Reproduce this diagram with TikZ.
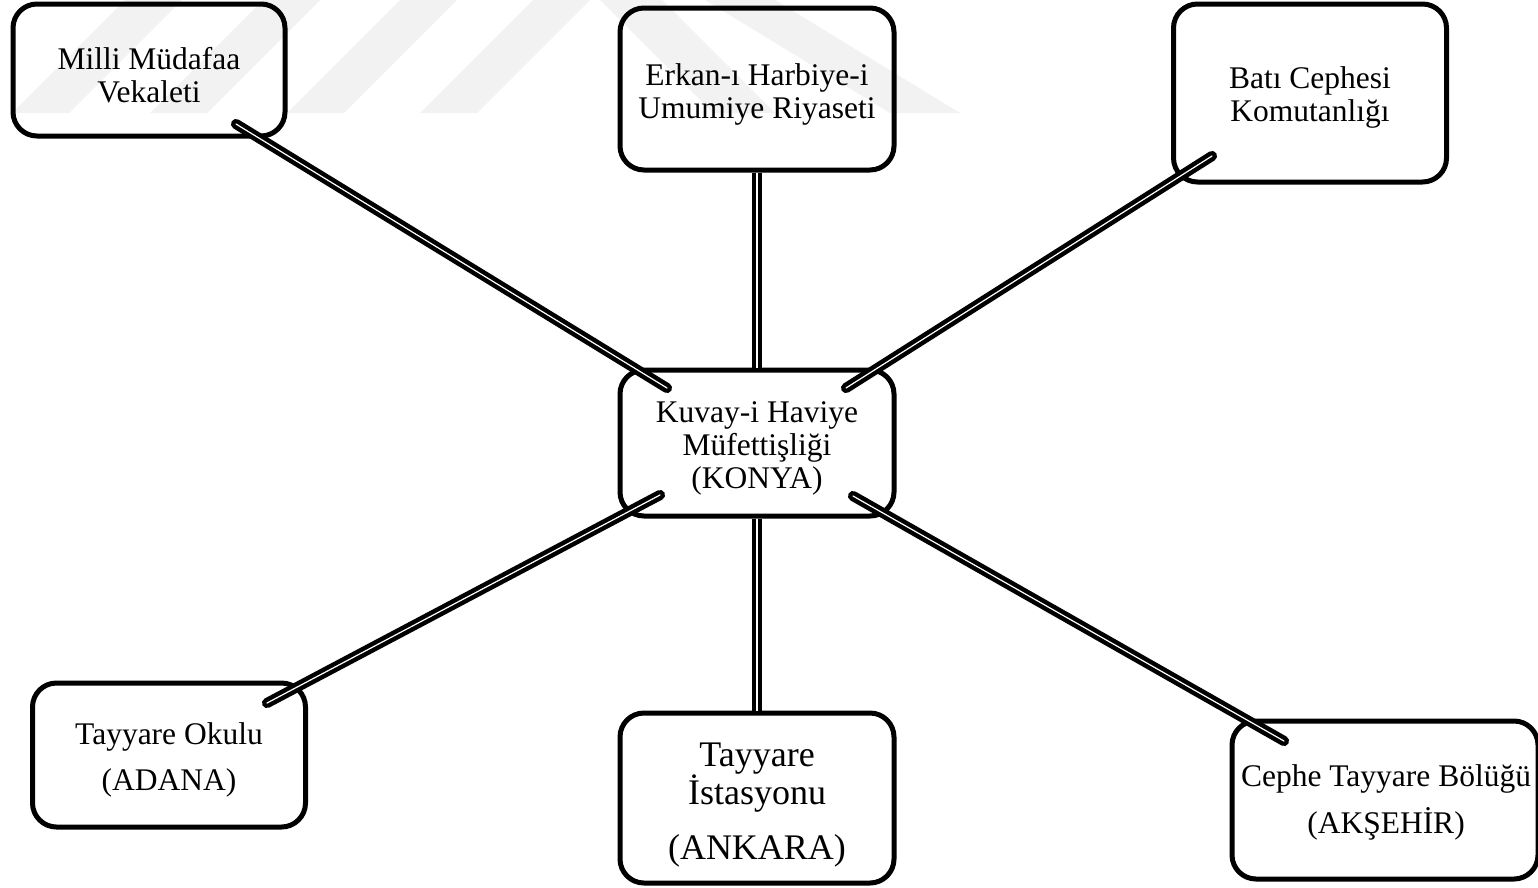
\documentclass[tikz,border=0pt]{standalone}
\usepackage{fontspec}
\setmainfont{Liberation Serif}
\begin{document}
\begin{tikzpicture}[x=1pt,y=-1pt,
  box/.style={draw=black, line width=5pt, rounded corners=24pt, inner sep=0pt},
  lbl/.style={inner sep=0pt, align=center, font=\fontsize{31.5}{33}\selectfont},
  link/.style={line width=4.5pt, double=white, double distance=1.2pt, line cap=round},
  vlink/.style={link, line cap=butt},
  wm/.style={fill=black!5, draw=none}]
\useasboundingbox (0,0) rectangle (1538,887);
% faint watermark stripes
\foreach \b in {12,150,287,420}{
  \fill[wm] (\b,113) -- (\b+57,113) -- (\b+170,0) -- (\b+113,0) -- cycle;
}
\fill[wm] (600,0) -- (662,0) -- (775,113) -- (713,113) -- cycle;
\fill[wm] (705,0) -- (775,0) -- (960,113) -- (890,113) -- cycle;
% boxes
\node[box, minimum width=272pt, minimum height=132pt] (milli) at (149,70) {};
\node[box, minimum width=274pt, minimum height=162pt] (erkan) at (757,89) {};
\node[box, minimum width=273pt, minimum height=178pt] (bati) at (1310,93) {};
\node[box, minimum width=274pt, minimum height=146pt] (kuvay) at (757,443) {};
\node[box, minimum width=273pt, minimum height=144pt] (adana) at (169,755) {};
\node[box, minimum width=274pt, minimum height=170pt] (ankara) at (757,798) {};
\node[box, minimum width=306pt, minimum height=158pt] (cephe) at (1385,800) {};
% texts
\node[lbl] (millit) at (149,75) {Milli Müdafaa\\Vekaleti};
\node[lbl] (erkant) at (757,94) {Erkan-ı Harbiye-i\\Umumiye Riyaseti};
\node[lbl] (batit) at (1310,97) {Batı Cephesi\\Komutanlığı};
\node[lbl] (kuvayt) at (757,448) {Kuvay-i Haviye\\Müfettişliği\\(KONYA)};
\node[lbl, font=\fontsize{31.5}{46}\selectfont] (adanat) at (169,760) {Tayyare Okulu\\(ADANA)};
\node[lbl, font=\fontsize{36}{37}\selectfont] (ankarat) at (757,805) {Tayyare\\İstasyonu\\[18pt](ANKARA)};
\node[lbl, font=\fontsize{31.5}{47}\selectfont] (cephet) at (1386,802) {Cephe Tayyare Bölüğü\\(AKŞEHİR)};
% connector ends
\coordinate (c1a) at (236,124);
\coordinate (c1b) at (667,388);
\coordinate (c3a) at (1212,156);
\coordinate (c3b) at (846,388);
\coordinate (c4a) at (660,495);
\coordinate (c4b) at (267,703);
\coordinate (c6a) at (853,496);
\coordinate (c6b) at (1284,741);
% connectors
\draw[link] (c1a) -- (c1b);
\draw[vlink] (erkan.south) -- (kuvay.north);
\draw[link] (c3a) -- (c3b);
\draw[link] (c4a) -- (c4b);
\draw[vlink] (kuvay.south) -- (ankara.north);
\draw[link] (c6a) -- (c6b);
\end{tikzpicture}
\end{document}
